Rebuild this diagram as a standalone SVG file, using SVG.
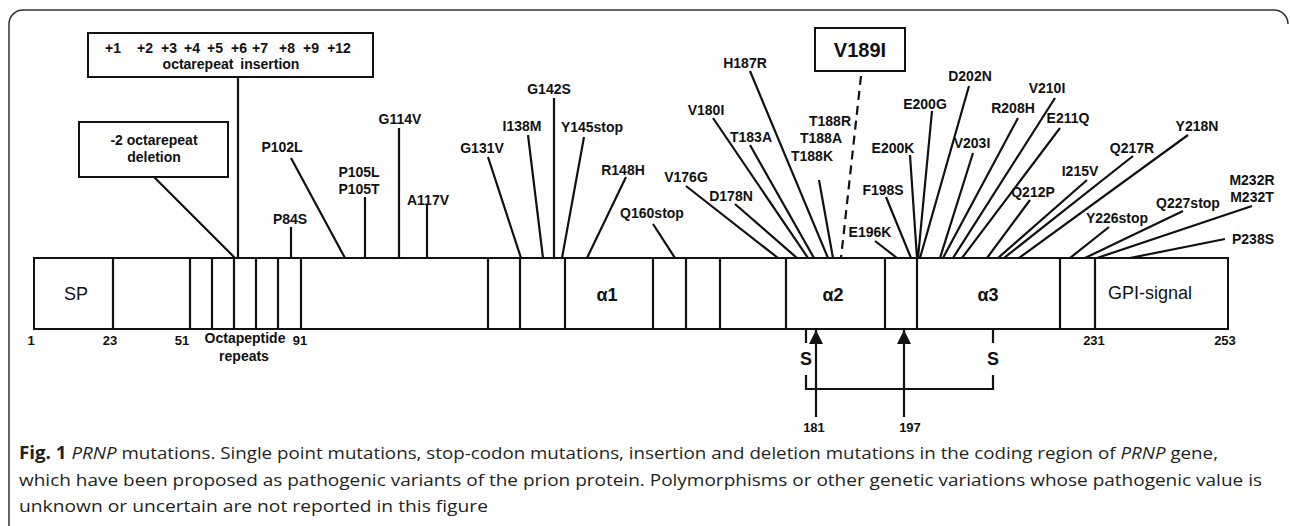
<svg xmlns="http://www.w3.org/2000/svg" width="1290" height="526" viewBox="0 0 1290 526">
<style>
.lb{font-family:"Liberation Sans",Arial,sans-serif;font-weight:bold;font-size:14px;fill:#111;text-anchor:middle}
.num{font-family:"Liberation Sans",Arial,sans-serif;font-weight:bold;font-size:13px;fill:#111;text-anchor:middle}
.dom{font-family:"Liberation Sans",Arial,sans-serif;font-size:18px;fill:#111;text-anchor:middle}
.domb{font-family:"Liberation Sans",Arial,sans-serif;font-weight:bold;font-size:18px;fill:#111;text-anchor:middle}
.box{fill:#fff;stroke:#111;stroke-width:2}
.ln{stroke:#111;stroke-width:2.2;fill:none}
.cap{font-family:"Open Sans","Liberation Sans",sans-serif;font-size:17px;fill:#231f20}
</style>
<defs>
<marker id="ah" markerUnits="userSpaceOnUse" markerWidth="14" markerHeight="14" refX="14" refY="7" orient="auto">
<path d="M0,0 L14,7 L0,14 z" fill="#111"/>
</marker>
</defs>
<rect width="1290" height="526" fill="#fff"/>
<path d="M9,526 V24 A14,14 0 0 1 23,10 H1274 A14,14 0 0 1 1288,24" fill="none" stroke="#333" stroke-width="1.5"/>

<g id="protein">
<rect class="box" x="34" y="258" width="1194" height="71"/>
<path class="ln" stroke-width="2" d="M113,258V329M190,258V329M212,258V329M234,258V329M256,258V329M278,258V329M301,258V329M488,258V329M520,258V329M565,258V329M653,258V329M686,258V329M720,258V329M786,258V329M885,258V329M917,258V329M1060,258V329M1095,258V329"/>
<text class="dom" x="76" y="300">SP</text>
<text class="domb" x="607" y="301">α1</text>
<text class="domb" x="833" y="301">α2</text>
<text class="domb" x="988" y="301">α3</text>
<text class="dom" x="1150" y="299">GPI-signal</text>
</g>

<g id="positions">
<text class="num" x="31" y="345">1</text>
<text class="num" x="110" y="345">23</text>
<text class="num" x="182" y="345">51</text>
<text class="num" x="300" y="345">91</text>
<text class="num" x="1094" y="345">231</text>
<text class="num" x="1225" y="345">253</text>
<text class="lb" x="245" y="343">Octapeptide</text>
<text class="lb" x="244" y="361">repeats</text>
</g>

<g id="insertion-box">
<rect class="box" x="88" y="33" width="285" height="44"/>
<text class="lb" y="53"><tspan x="113">+1</tspan><tspan x="145">+2</tspan><tspan x="169">+3</tspan><tspan x="192">+4</tspan><tspan x="215">+5</tspan><tspan x="239">+6</tspan><tspan x="260">+7</tspan><tspan x="287">+8</tspan><tspan x="311">+9</tspan><tspan x="339">+12</tspan></text>
<text class="lb" x="231" y="69" word-spacing="3">octarepeat insertion</text>
</g>
<g id="deletion-box">
<rect class="box" x="79" y="122" width="149" height="55"/>
<text class="lb" x="154" y="145">-2 octarepeat</text>
<text class="lb" x="154" y="162">deletion</text>
</g>
<g id="v189i-box">
<rect class="box" stroke-width="2.5" x="815" y="28" width="90" height="43"/>
<text class="lb" style="font-size:20px" x="860" y="57">V189I</text>
</g>

<g id="mutation-labels">
<text class="lb" x="290" y="224">P84S</text>
<text class="lb" x="282" y="152">P102L</text>
<text class="lb" x="359" y="177">P105L</text>
<text class="lb" x="359" y="194">P105T</text>
<text class="lb" x="400" y="124">G114V</text>
<text class="lb" x="428" y="205">A117V</text>
<text class="lb" x="482" y="153">G131V</text>
<text class="lb" x="522" y="131">I138M</text>
<text class="lb" x="549" y="94">G142S</text>
<text class="lb" x="592" y="132">Y145stop</text>
<text class="lb" x="623" y="175">R148H</text>
<text class="lb" x="652" y="218">Q160stop</text>
<text class="lb" x="686" y="182">V176G</text>
<text class="lb" x="731" y="201">D178N</text>
<text class="lb" x="706" y="115">V180I</text>
<text class="lb" x="751" y="142">T183A</text>
<text class="lb" x="745" y="68">H187R</text>
<text class="lb" x="830" y="126">T188R</text>
<text class="lb" x="821" y="143">T188A</text>
<text class="lb" x="812" y="161">T188K</text>
<text class="lb" x="870" y="237">E196K</text>
<text class="lb" x="883" y="195">F198S</text>
<text class="lb" x="893" y="153">E200K</text>
<text class="lb" x="925" y="109">E200G</text>
<text class="lb" x="970" y="81">D202N</text>
<text class="lb" x="972" y="148">V203I</text>
<text class="lb" x="1013" y="113">R208H</text>
<text class="lb" x="1047" y="93">V210I</text>
<text class="lb" x="1068" y="123">E211Q</text>
<text class="lb" x="1033" y="197">Q212P</text>
<text class="lb" x="1080" y="176">I215V</text>
<text class="lb" x="1132" y="153">Q217R</text>
<text class="lb" x="1197" y="131">Y218N</text>
<text class="lb" x="1117" y="223">Y226stop</text>
<text class="lb" x="1188" y="208">Q227stop</text>
<text class="lb" x="1252" y="185">M232R</text>
<text class="lb" x="1252" y="202">M232T</text>
<text class="lb" x="1253" y="244">P238S</text>
</g>

<g id="disulfide">
<text class="lb" style="font-size:18px" x="806" y="365">S</text>
<text class="lb" style="font-size:18px" x="993" y="365">S</text>
<text class="num" x="814" y="432">181</text>
<text class="num" x="910" y="432">197</text>
</g>

<g id="connectors">
<path class="ln" d="M238,77V258M154,177L235,258M291,227V258M291,158L345,258M365,197V258M399,128V258M427,204V258M488,157L521,258M528,135L543,258M554,98V258M584,137L562,258M626,177L587,258M653,224L675,258M686,186L778,258M735,204L797,258M713,118L808,258M750,145L814,258M750,71L828,258M819,180L833,258M875,241L897,258M886,197L911,258M910,155L917,258M932,111L918,258M969,86L920,258M973,153L940,258M1018,118L943,258M1055,98L953,258M1060,128L962,258M1030,200L987,258M1087,180L998,258M1133,156L1004,258M1188,135L1019,258M1109,227L1070,258M1183,211L1085,258M1252,206L1097,258M1225,239L1130,258"/>
<path class="ln" stroke-dasharray="9,6" d="M861,76L841,258"/>
<path class="ln" d="M806,329V343M993,329V343M806,375V389H993V375"/>
<path class="ln" marker-end="url(#ah)" d="M816,417V330"/>
<path class="ln" marker-end="url(#ah)" d="M904,417V330"/>
</g>

<g id="caption">
<text class="cap" x="19" y="459" textLength="1199" lengthAdjust="spacingAndGlyphs"><tspan font-weight="bold">Fig. 1</tspan> <tspan font-style="italic">PRNP</tspan> mutations. Single point mutations, stop-codon mutations, insertion and deletion mutations in the coding region of <tspan font-style="italic">PRNP</tspan> gene,</text>
<text class="cap" x="19" y="486" textLength="1243" lengthAdjust="spacingAndGlyphs">which have been proposed as pathogenic variants of the prion protein. Polymorphisms or other genetic variations whose pathogenic value is</text>
<text class="cap" x="19" y="512" textLength="469" lengthAdjust="spacingAndGlyphs">unknown or uncertain are not reported in this figure</text>
</g>
</svg>
